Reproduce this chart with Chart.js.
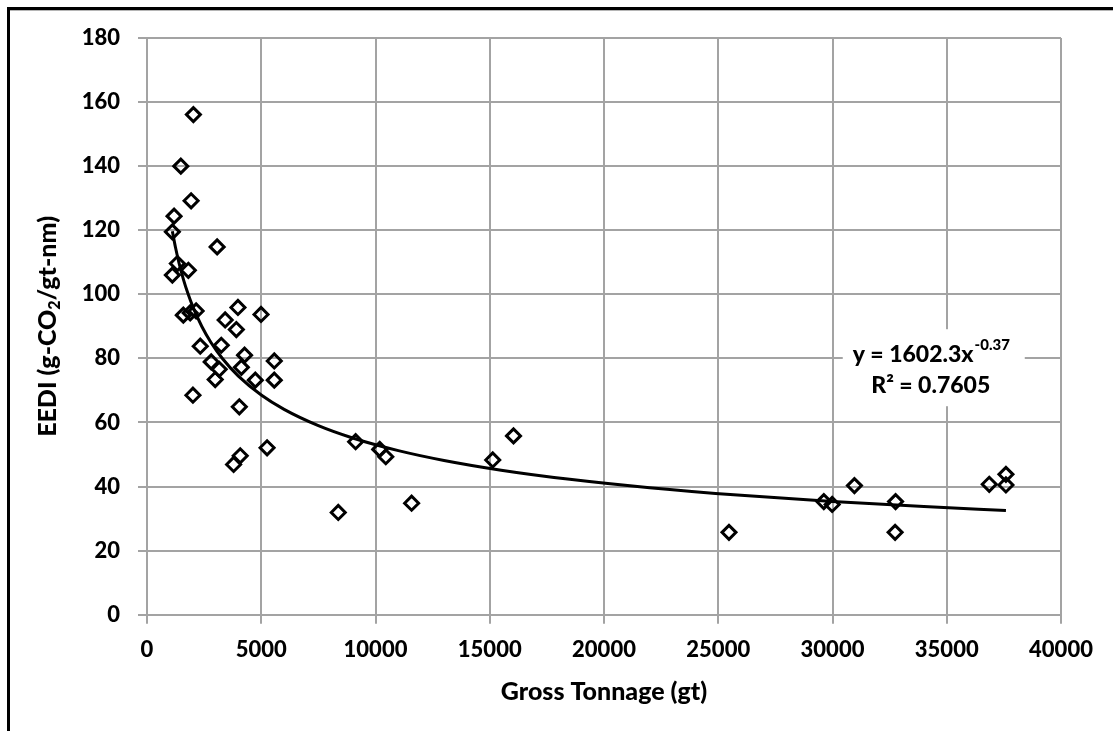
<!DOCTYPE html>
<html>
<head>
<meta charset="utf-8">
<title>EEDI vs Gross Tonnage</title>
<script src="https://cdn.jsdelivr.net/npm/chart.js@4.4.0/dist/chart.umd.min.js"></script>
<style>
  html, body { margin: 0; padding: 0; background: #fff; }
  canvas { display: block; }
</style>
</head>
<body>
<canvas id="eediChart" width="1113" height="731"></canvas>
<script>
// ===== DATA =====
const grossTonnage = [
  2030, 1480, 1930, 1185, 1110, 3070, 1330, 1810, 1110,
  1590, 1890, 2150, 3980, 4990, 3420, 3910, 2330, 3250,
  4270, 5570, 2810, 3160, 4130, 2985, 4740, 5570, 2010,
  4040, 5255, 4080, 3790, 9130, 10185, 10450, 15130, 16040,
  8370, 11580, 25470, 29620, 29985, 30960, 32760, 32740,
  36860, 37590, 37590
];
const eediValues = [
  156.1, 140.0, 129.2, 124.4, 119.5, 114.8, 109.6, 107.5, 106.0,
  93.5, 94.2, 94.8, 95.9, 93.7, 92.0, 89.0, 83.8, 84.1,
  81.0, 79.2, 78.9, 76.6, 77.2, 73.4, 73.2, 73.2, 68.5,
  64.9, 52.1, 49.6, 46.9, 54.0, 51.6, 49.3, 48.3, 55.8,
  31.9, 34.8, 25.7, 35.3, 34.4, 40.3, 35.3, 25.7,
  40.7, 43.8, 40.5
];

const xTicks = [0, 5000, 10000, 15000, 20000, 25000, 30000, 35000, 40000];
const yTicks = [0, 20, 40, 60, 80, 100, 120, 140, 160, 180];

// Excel power trendline as printed on the chart
const trendCoef = 1602.3;
const trendExp = -0.37;
const trendR2 = '0.7605';
const trendX = [1110, 1250, 1400, 1600, 1800, 2000, 2400, 2800, 3300, 4000, 5000,
  6000, 7500, 9000, 11000, 13000, 15500, 18500, 22000, 26000, 30000, 34000, 37590];

// ===== STYLE =====
const GRID = '#a3a3a3';
const FONT = 'Lato, "Liberation Sans", sans-serif';
const WEIGHT = '900';

const trendPoints = trendX.map(x => ({ x, y: trendCoef * Math.pow(x, trendExp) }));
const scatterPoints = grossTonnage.map((x, i) => ({ x, y: eediValues[i] }));

// ===== DECOR: frame, axis titles, equation box =====
const decorPlugin = {
  id: 'decor',
  beforeDraw(chart) {
    const { ctx, width, height } = chart;
    ctx.save();
    ctx.fillStyle = '#fff';
    ctx.fillRect(0, 0, width, height);
    // outer frame: only left and top edges are visible in the crop
    ctx.fillStyle = '#000';
    ctx.fillRect(7, 7, width - 7, 3);
    ctx.fillRect(7, 7, 3, height - 7);
    ctx.fillStyle = '#b5b5b5';
    ctx.fillRect(10, 10, width - 10, 1);
    ctx.restore();
  },
  afterDraw(chart) {
    const { ctx, chartArea: a, scales } = chart;
    ctx.save();
    ctx.fillStyle = '#000';
    ctx.textBaseline = 'middle';

    // x title
    ctx.font = `${WEIGHT} 25px ${FONT}`;
    ctx.textAlign = 'center';
    ctx.fillText('Gross Tonnage (gt)', (a.left + a.right) / 2, 692);

    // y title with subscript 2, rotated
    ctx.translate(48, (a.top + a.bottom) / 2);
    ctx.rotate(-Math.PI / 2);
    ctx.textAlign = 'left';
    const big = `${WEIGHT} 25px ${FONT}`, small = `${WEIGHT} 16px ${FONT}`;
    const p1 = 'EEDI (g-CO', p2 = '2', p3 = '/gt-nm)';
    ctx.font = big; const w1 = ctx.measureText(p1).width, w3 = ctx.measureText(p3).width;
    ctx.font = small; const w2 = ctx.measureText(p2).width;
    let sx = -(w1 + w2 + w3) / 2;
    ctx.font = big; ctx.fillText(p1, sx, 0); sx += w1;
    ctx.font = small; ctx.fillText(p2, sx, 7); sx += w2;
    ctx.font = big; ctx.fillText(p3, sx, 0);
    ctx.restore();

    // equation label on white box
    ctx.save();
    const cx = scales.x.getPixelForValue(34300);
    const y1 = scales.y.getPixelForValue(81.3);
    const y2 = scales.y.getPixelForValue(71.4);
    ctx.fillStyle = '#fff';
    ctx.fillRect(cx - 88, y1 - 25, 182, 77);
    ctx.fillStyle = '#000';
    ctx.textBaseline = 'middle';
    ctx.textAlign = 'left';
    const eqMain = 'y = 1602.3x', eqSup = String(trendExp);
    const eqFont = `${WEIGHT} 23px ${FONT}`, supFont = `${WEIGHT} 15px ${FONT}`;
    ctx.font = eqFont; const m1 = ctx.measureText(eqMain).width;
    ctx.font = supFont; const m2 = ctx.measureText(eqSup).width;
    let ex = cx - (m1 + m2) / 2;
    ctx.font = eqFont; ctx.fillText(eqMain, ex, y1);
    ctx.font = supFont; ctx.fillText(eqSup, ex + m1 + 1, y1 - 9);
    ctx.font = eqFont; ctx.textAlign = 'center';
    ctx.fillText('R² = ' + trendR2, cx, y2);
    ctx.restore();
  }
};

new Chart(document.getElementById('eediChart'), {
  type: 'scatter',
  data: {
    datasets: [
      {
        label: 'Power trend',
        type: 'line',
        data: trendPoints,
        borderColor: '#000',
        borderWidth: 3,
        pointRadius: 0,
        fill: false,
        cubicInterpolationMode: 'monotone',
        order: 1
      },
      {
        label: 'Ships',
        data: scatterPoints,
        pointStyle: 'rectRot',
        pointRadius: 7,
        pointHoverRadius: 7,
        borderWidth: 3,
        borderColor: '#000',
        backgroundColor: 'rgba(0,0,0,0)',
        order: 2
      }
    ]
  },
  options: {
    responsive: false,
    devicePixelRatio: 1,
    animation: false,
    events: [],
    layout: { padding: { left: 0, top: 38, right: 52, bottom: 0 } },
    plugins: {
      legend: { display: false },
      tooltip: { enabled: false }
    },
    scales: {
      x: {
        type: 'linear',
        min: xTicks[0],
        max: xTicks[xTicks.length - 1],
        afterBuildTicks: s => { s.ticks = xTicks.map(v => ({ value: v })); },
        afterFit: s => { s.height = 116.3; },
        ticks: {
          color: '#000',
          padding: 13,
          maxRotation: 0,
          font: { family: FONT, size: 22, weight: WEIGHT },
          callback: v => String(v)
        },
        grid: { color: GRID, lineWidth: 2, tickLength: 9 },
        border: { color: GRID, width: 2 }
      },
      y: {
        type: 'linear',
        min: yTicks[0],
        max: yTicks[yTicks.length - 1],
        afterBuildTicks: s => { s.ticks = yTicks.map(v => ({ value: v })); },
        afterFit: s => { s.width = 147; },
        ticks: {
          color: '#000',
          padding: 18,
          font: { family: FONT, size: 22, weight: WEIGHT },
          callback: v => String(v)
        },
        grid: { color: GRID, lineWidth: 2, tickLength: 9 },
        border: { color: GRID, width: 2 }
      }
    }
  },
  plugins: [decorPlugin]
});
</script>
</body>
</html>
